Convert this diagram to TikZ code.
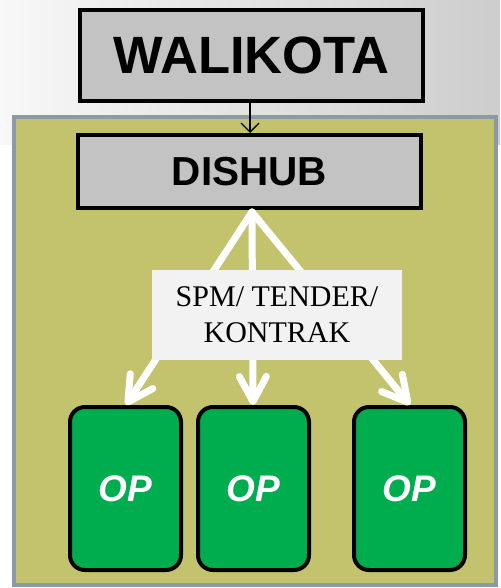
\documentclass[tikz,border=0pt]{standalone}
\usepackage{fontspec}
\setmainfont{Liberation Serif}
\setsansfont{Liberation Sans}
\usetikzlibrary{arrows.meta}
\definecolor{bandL}{HTML}{F8F8F8}
\definecolor{bandR}{HTML}{CDCDCD}
\definecolor{olive}{HTML}{C2C36C}
\definecolor{frame}{HTML}{8A9BA6}
\definecolor{boxgrey}{HTML}{C3C3C3}
\definecolor{opgreen}{HTML}{00AD4E}
\definecolor{labelbg}{HTML}{F2F2F2}
\tikzset{
  headbox/.style={draw=black, line width=4pt, fill=boxgrey, inner sep=0pt,
    font=\sffamily\bfseries},
  opbox/.style={draw=black, line width=4pt, fill=opgreen, rounded corners=15pt,
    minimum width=111pt, minimum height=163pt, inner sep=0pt,
    font=\sffamily\bfseries\itshape\fontsize{37}{40}\selectfont, text=white},
  flow/.style={draw=white, line width=7pt, line cap=round,
    -{Straight Barb[length=25pt, width=27pt, line width=7pt, round]}},
}
\begin{document}
\begin{tikzpicture}[x=1pt, y=-1pt]
  \useasboundingbox (0,0) rectangle (500,588);
  % page backdrop: shaded band at the top, white below
  \fill[white] (0,0) rectangle (500,588);
  \shade[left color=bandL, right color=bandR] (0,0) rectangle (500,145);
  % olive panel holding DISHUB and the operators
  \draw[frame, line width=4pt, fill=olive] (14,117) rectangle (496,585);
  % boxes
  \node[headbox, minimum width=343pt, minimum height=91pt,
        font=\sffamily\bfseries\fontsize{52.5}{56}\selectfont]
        (walikota) at (251.5,55.5) {WALIKOTA};
  \node[headbox, minimum width=343pt, minimum height=73pt,
        font=\sffamily\bfseries\fontsize{40.5}{44}\selectfont]
        (dishub) at (249.5,171.5) {DISHUB};
  \node[opbox] (op1) at (125.5,488.5) {OP};
  \node[opbox] (op2) at (253.5,488.5) {OP};
  \node[opbox] (op3) at (409.5,488.5) {OP};
  % command line
  \draw[black, line width=1.3pt, -{Straight Barb[length=9pt, width=18pt]}]
    (walikota.south -| 250,0) -- (dishub.north -| 250,0);
  % contract arrows
  \coordinate (apex) at (252,212);
  \draw[flow] (apex) -- (op1.north -| 126,0);
  \draw[flow] (apex) -- (op2.north -| 253,0);
  \draw[flow] (apex) -- (op3.north -| 410,0);
  % label on top of the arrows
  \node[fill=labelbg, minimum width=250pt, minimum height=90pt, inner sep=0pt,
        align=center, font=\fontsize{30}{36}\selectfont]
        (label) at (277,315) {SPM/ TENDER/\\KONTRAK};
\end{tikzpicture}
\end{document}
